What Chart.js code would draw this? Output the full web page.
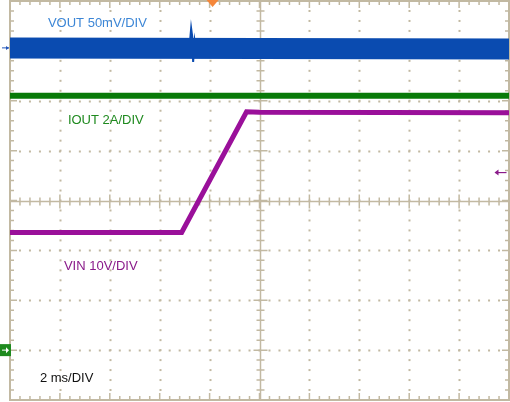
<!DOCTYPE html>
<html><head><meta charset="utf-8">
<script src="https://cdn.jsdelivr.net/npm/chart.js@4"></script>
<style>html,body{margin:0;padding:0;background:#fff}#wrap{width:510px;height:402px}</style>
</head><body><div id="wrap"><canvas id="c"></canvas></div>
<script>
// divisions: x 0..10 (2 ms/div), y 0..8
const voutX = [0, 10];
const voutY = [7.06, 7.04];
const spikeX = [3.6, 3.63, 3.65, 3.67, 3.7, 3.74, 3.8];
const spikeY = [7.1, 7.45, 7.3, 6.78, 7.2, 6.95, 7.05];
const ioutX = [0, 10];
const ioutY = [6.1, 6.1];
const vinX = [0, 3.44, 4.74, 5.0, 10];
const vinY = [3.36, 3.36, 5.78, 5.77, 5.76];
const labels = [
  {t:'VOUT 50mV/DIV', x:0.76, y:7.56, c:'#3c86d6'},
  {t:'IOUT 2A/DIV', x:1.16, y:5.6, c:'#1f8a1f'},
  {t:'VIN 10V/DIV', x:1.08, y:2.68, c:'#8a1a8a'},
  {t:'2 ms/DIV', x:0.6, y:0.44, c:'#111'}
];
const pts = (xs, ys) => xs.map((x, i) => ({x, y: ys[i]}));

const scope = {
  id: 'scope',
  beforeDatasetsDraw(ch) {
    const {ctx, chartArea: a, scales: {x, y}} = ch;
    ctx.save();
    ctx.strokeStyle = '#c2b9a2';
    ctx.fillStyle = '#c2b9a2';
    for (let i = 1; i < 10; i++) {
      if (i === 5) continue;
      const px = Math.round(x.getPixelForValue(i)) + 0.5;
      for (let j = 0; j <= 40; j++) { const py = y.getPixelForValue(j * 0.2); ctx.fillRect(px - 1, py - 1, 2, 2); }
    }
    for (let j = 1; j < 8; j++) {
      if (j === 4) continue;
      const py = Math.round(y.getPixelForValue(j)) + 0.5;
      for (let i = 0; i <= 50; i++) { const px = x.getPixelForValue(i * 0.2); ctx.fillRect(px - 1, py - 1, 2, 2); }
    }
    ctx.lineWidth = 1.5;
    const cx = Math.round(x.getPixelForValue(5)) + 0.5, cy = Math.round(y.getPixelForValue(4)) + 0.5;
    ctx.beginPath(); ctx.moveTo(cx, a.top); ctx.lineTo(cx, a.bottom); ctx.moveTo(a.left, cy); ctx.lineTo(a.right, cy); ctx.stroke();
    for (let i = 0; i <= 50; i++) {
      const px = x.getPixelForValue(i * 0.2); const L = i % 5 === 0 ? 7 : 4;
      ctx.beginPath(); ctx.moveTo(px, cy - L); ctx.lineTo(px, cy + L);
      ctx.moveTo(px, a.top); ctx.lineTo(px, a.top + L); ctx.moveTo(px, a.bottom); ctx.lineTo(px, a.bottom - L); ctx.stroke();
    }
    for (let j = 0; j <= 40; j++) {
      const py = y.getPixelForValue(j * 0.2); const L = j % 5 === 0 ? 7 : 4;
      ctx.beginPath(); ctx.moveTo(cx - L, py); ctx.lineTo(cx + L, py);
      ctx.moveTo(a.left, py); ctx.lineTo(a.left + L, py); ctx.moveTo(a.right, py); ctx.lineTo(a.right - L, py); ctx.stroke();
    }
    ctx.lineWidth = 2;
    ctx.strokeRect(a.left, a.top, a.right - a.left, a.bottom - a.top);
    ctx.restore();
  },
  afterDatasetsDraw(ch) {
    const {ctx, chartArea: a, scales: {x, y}} = ch;
    ctx.save();
    ctx.font = '13px "Liberation Sans", Arial, sans-serif';
    ctx.textBaseline = 'middle';
    labels.forEach(l => { ctx.fillStyle = l.c; ctx.fillText(l.t, x.getPixelForValue(l.x), y.getPixelForValue(l.y)); });
    const vy = y.getPixelForValue(7.06);
    ctx.strokeStyle = '#2255bb'; ctx.fillStyle = '#2255bb'; ctx.lineWidth = 1;
    ctx.beginPath(); ctx.moveTo(2, vy); ctx.lineTo(9, vy); ctx.stroke();
    ctx.beginPath(); ctx.moveTo(9, vy); ctx.lineTo(6, vy - 2); ctx.lineTo(6, vy + 2); ctx.fill();
    const gy = y.getPixelForValue(1);
    ctx.fillStyle = '#1e8a1e'; ctx.fillRect(0, gy - 6, 11, 12);
    ctx.strokeStyle = '#fff'; ctx.fillStyle = '#fff';
    ctx.beginPath(); ctx.moveTo(2, gy); ctx.lineTo(8, gy); ctx.stroke();
    ctx.beginPath(); ctx.moveTo(9, gy); ctx.lineTo(6, gy - 3); ctx.lineTo(6, gy + 3); ctx.fill();
    const tx = x.getPixelForValue(4.06);
    ctx.fillStyle = '#f5873a';
    ctx.beginPath(); ctx.moveTo(tx - 6, 0); ctx.lineTo(tx + 6, 0); ctx.lineTo(tx, 7); ctx.fill();
    const py = y.getPixelForValue(4.56), rx = x.getPixelForValue(9.95);
    ctx.strokeStyle = '#8a1a8a'; ctx.fillStyle = '#8a1a8a'; ctx.lineWidth = 1.2;
    ctx.beginPath(); ctx.moveTo(rx - 11, py); ctx.lineTo(rx, py); ctx.stroke();
    ctx.beginPath(); ctx.moveTo(rx - 12, py); ctx.lineTo(rx - 8, py - 3); ctx.lineTo(rx - 8, py + 3); ctx.fill();
    ctx.restore();
  }
};

new Chart(document.getElementById('c'), {
  type: 'line',
  data: { datasets: [
    {data: pts(voutX, voutY), borderColor: '#0a4bb0', borderWidth: 21, pointRadius: 0, borderCapStyle: 'butt'},
    {data: pts(spikeX, spikeY), borderColor: '#0a4bb0', borderWidth: 2, pointRadius: 0, tension: 0},
    {data: pts(ioutX, ioutY), borderColor: '#087a08', borderWidth: 6, pointRadius: 0, borderCapStyle: 'butt'},
    {data: pts(vinX, vinY), borderColor: '#9a109a', borderWidth: 5, pointRadius: 0, borderCapStyle: 'butt'}
  ]},
  options: {
    responsive: true, maintainAspectRatio: false, animation: false,
    layout: {padding: {left: 10, right: 1, top: 1, bottom: 2}},
    plugins: {legend: {display: false}, tooltip: {enabled: false}},
    scales: {
      x: {type: 'linear', min: 0, max: 10, display: false},
      y: {type: 'linear', min: 0, max: 8, display: false}
    }
  },
  plugins: [scope]
});
</script></body></html>
